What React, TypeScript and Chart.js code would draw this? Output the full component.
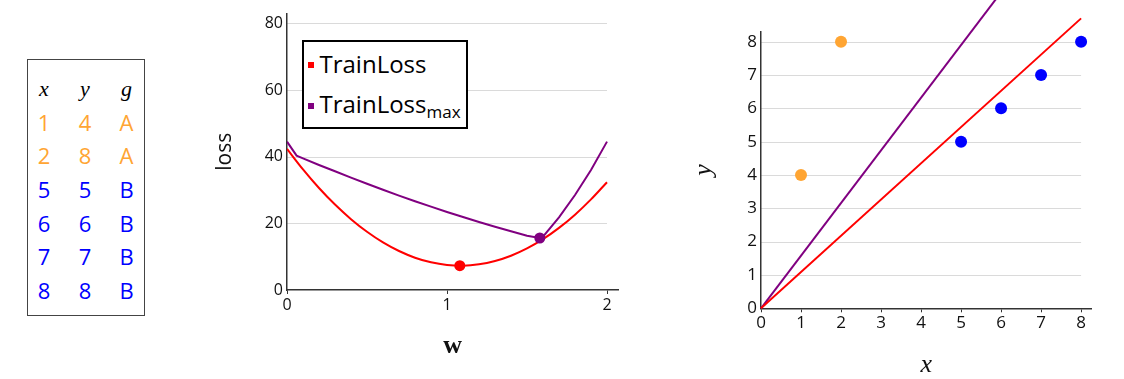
import React, { useEffect, useRef } from 'react';
import { Chart, registerables } from 'chart.js';

Chart.register(...registerables);

// ---------- data table (x, y, group) ----------
const dataX = [1, 2, 5, 6, 7, 8];
const dataY = [4, 8, 5, 6, 7, 8];
const dataG = ['A', 'A', 'B', 'B', 'B', 'B'];
const tableHeaders = ['x', 'y', 'g'];

// ---------- loss curves (middle chart) ----------
const wValues = [0, 0.1, 0.2, 0.3, 0.4, 0.5, 0.6, 0.7, 0.8, 0.9, 1.0, 1.1, 1.2, 1.3, 1.4, 1.5, 1.6, 1.7, 1.8, 1.9, 2.0];
const trainLoss = [42.33, 36.17, 30.59, 25.62, 21.24, 17.46, 14.27, 11.69, 9.69, 8.3, 7.5, 7.3, 7.69, 8.69, 10.27, 12.46, 15.24, 18.62, 22.59, 27.17, 32.33];
const wMaxValues = [0, 0.06, 0.1, 0.2, 0.3, 0.4, 0.5, 0.6, 0.7, 0.8, 0.9, 1.0, 1.1, 1.2, 1.3, 1.4, 1.5, 1.58, 1.6, 1.7, 1.8, 1.9, 2.0];
const trainLossMax = [44.5, 40.3, 39.5, 37.5, 35.6, 33.7, 31.85, 30.06, 28.3, 26.6, 25.0, 23.4, 21.9, 20.4, 18.95, 17.6, 16.25, 15.6, 16.0, 21.8, 28.5, 36.0, 44.5];
const minTrainW = [1.08];
const minTrainLoss = [7.3];
const minMaxW = [1.58];
const minMaxLoss = [15.6];
const wTicks = [0, 1, 2];
const lossTicks = [0, 20, 40, 60, 80];

// ---------- fitted lines (right chart) ----------
const fitX = [0, 8];
const fitTrainLossY = [0, 8.7];
const fitMaxY = [0, 12.64];
const xTicks = [0, 1, 2, 3, 4, 5, 6, 7, 8];
const yTicks = [0, 1, 2, 3, 4, 5, 6, 7, 8];

const legendItems = [
  { name: 'TrainLoss', sub: '', color: '#ff0000' },
  { name: 'TrainLoss', sub: 'max', color: '#800080' },
];

const RED = '#ff0000';
const PURPLE = '#800080';
const groupColors: Record<string, string> = { A: '#ffa533', B: '#0000ff' };
const AXIS = '#333333';
const GRID = '#dadada';
const TICK_COLOR = '#111111';

const partialGrid = (endX: number) => ({
  id: 'partialGrid',
  beforeDraw(chart: any) {
    const { ctx, scales } = chart;
    const x = scales.x;
    const y = scales.y;
    const x0 = x.getPixelForValue(0);
    const x1 = x.getPixelForValue(endX);
    ctx.save();
    ctx.strokeStyle = GRID;
    ctx.lineWidth = 1;
    y.ticks.forEach((t: any) => {
      if (t.value === 0) return;
      const py = Math.round(y.getPixelForValue(t.value)) + 0.5;
      ctx.beginPath();
      ctx.moveTo(x0, py);
      ctx.lineTo(x1, py);
      ctx.stroke();
    });
    ctx.restore();
  },
});

function pts(xs: number[], ys: number[]) {
  return xs.map((v, i) => ({ x: v, y: ys[i] }));
}

function middleConfig(): any {
  return {
    type: 'line',
    data: {
      datasets: [
        {
          label: 'TrainLoss minimum',
          data: pts(minTrainW, minTrainLoss),
          showLine: false,
          pointRadius: 5.5,
          pointBackgroundColor: RED,
          pointBorderWidth: 0,
          borderColor: RED,
        },
        {
          label: 'TrainLoss_max minimum',
          data: pts(minMaxW, minMaxLoss),
          showLine: false,
          pointRadius: 5.5,
          pointBackgroundColor: PURPLE,
          pointBorderWidth: 0,
          borderColor: PURPLE,
        },
        {
          label: 'TrainLoss',
          data: pts(wValues, trainLoss),
          borderColor: RED,
          borderWidth: 2,
          pointRadius: 0,
          cubicInterpolationMode: 'monotone',
          fill: false,
        },
        {
          label: 'TrainLoss_max',
          data: pts(wMaxValues, trainLossMax),
          borderColor: PURPLE,
          borderWidth: 2,
          pointRadius: 0,
          tension: 0,
          fill: false,
        },
      ],
    },
    options: {
      animation: false,
      responsive: false,
      events: [],
      layout: { padding: { left: 12.4, right: 21.8, top: 13.6, bottom: 16.9 } },
      plugins: { legend: { display: false }, tooltip: { enabled: false } },
      scales: {
        x: {
          type: 'linear',
          min: 0,
          max: 2.07,
          afterBuildTicks: (s: any) => {
            s.ticks = wTicks.map((v) => ({ value: v }));
          },
          afterFit: (s: any) => {
            s.height = 72.1;
          },
          grid: { drawOnChartArea: false, drawTicks: true, tickLength: 4, color: AXIS, lineWidth: 1 },
          border: { color: AXIS, width: 1.5 },
          ticks: { font: { size: 16 }, color: TICK_COLOR, padding: 2, autoSkip: false, maxRotation: 0 },
          title: {
            display: true,
            text: 'w',
            color: TICK_COLOR,
            padding: 0,
            font: { family: "'Liberation Serif', serif", size: 26, weight: 'bold', lineHeight: 1.2 },
          },
        },
        y: {
          type: 'linear',
          min: 0,
          max: 82.9,
          afterBuildTicks: (s: any) => {
            s.ticks = lossTicks.map((v) => ({ value: v }));
          },
          afterFit: (s: any) => {
            s.width = 74.6;
          },
          grid: { display: false, drawTicks: false },
          border: { color: AXIS, width: 1.5 },
          ticks: { font: { size: 16 }, color: TICK_COLOR, padding: 4 },
          title: {
            display: true,
            text: 'loss',
            color: TICK_COLOR,
            padding: 0,
            font: { size: 21, lineHeight: 1.2 },
          },
        },
      },
    },
    plugins: [partialGrid(2)],
  };
}

function rightConfig(): any {
  return {
    type: 'scatter',
    data: {
      datasets: [
        {
          label: 'data',
          data: pts(dataX, dataY),
          pointRadius: 6,
          pointBorderWidth: 0,
          pointBackgroundColor: dataG.map((g) => groupColors[g]),
          showLine: false,
        },
        {
          label: 'TrainLoss fit',
          data: pts(fitX, fitTrainLossY),
          showLine: true,
          borderColor: RED,
          borderWidth: 2,
          pointRadius: 0,
          clip: false,
        },
        {
          label: 'TrainLoss_max fit',
          data: pts(fitX, fitMaxY),
          showLine: true,
          borderColor: PURPLE,
          borderWidth: 2,
          pointRadius: 0,
          clip: false,
        },
      ],
    },
    options: {
      animation: false,
      responsive: false,
      events: [],
      layout: { padding: { left: 8.9, right: 32.5, top: 31.7, bottom: 3.2 } },
      plugins: { legend: { display: false }, tooltip: { enabled: false } },
      scales: {
        x: {
          type: 'linear',
          min: 0,
          max: 8.26,
          afterBuildTicks: (s: any) => {
            s.ticks = xTicks.map((v) => ({ value: v }));
          },
          afterFit: (s: any) => {
            s.height = 67.5;
          },
          grid: { drawOnChartArea: false, drawTicks: true, tickLength: 4, color: AXIS, lineWidth: 1 },
          border: { color: AXIS, width: 1.5 },
          ticks: { font: { size: 17 }, color: TICK_COLOR, padding: 1, autoSkip: false, maxRotation: 0 },
          title: {
            display: true,
            text: 'x',
            color: TICK_COLOR,
            padding: 0,
            font: { family: "'Liberation Serif', serif", size: 26, style: 'italic', lineHeight: 0.8 },
          },
        },
        y: {
          type: 'linear',
          min: 0,
          max: 8.3,
          afterBuildTicks: (s: any) => {
            s.ticks = yTicks.map((v) => ({ value: v }));
          },
          afterFit: (s: any) => {
            s.width = 72.1;
          },
          grid: { display: false, drawTicks: false },
          border: { color: AXIS, width: 1.5 },
          ticks: { font: { size: 17 }, color: TICK_COLOR, padding: 4 },
          title: {
            display: true,
            text: 'y',
            color: TICK_COLOR,
            padding: 0,
            font: { family: "'Liberation Serif', serif", size: 26, style: 'italic', lineHeight: 1.2 },
          },
        },
      },
    },
    plugins: [partialGrid(8)],
  };
}

const tableColCenters = [16, 57, 98.5];
const headerCenterY = 28.7;
const firstRowCenterY = 61.5;
const rowStep = 33.7;

function Cell(props: { cx: number; cy: number; size: number; color: string; family: string; italic?: boolean; text: string }) {
  return (
    <div
      style={{
        position: 'absolute',
        left: props.cx,
        top: props.cy,
        transform: 'translate(-50%, -50%)',
        fontSize: props.size,
        lineHeight: props.size + 'px',
        fontFamily: props.family,
        fontStyle: props.italic ? 'italic' : 'normal',
        color: props.color,
        whiteSpace: 'nowrap',
      }}
    >
      {props.text}
    </div>
  );
}

export default function App() {
  const midRef = useRef<HTMLCanvasElement>(null);
  const rightRef = useRef<HTMLCanvasElement>(null);

  useEffect(() => {
    Chart.defaults.font.family = "'Open Sans', sans-serif";
    const mid = new Chart(midRef.current as HTMLCanvasElement, middleConfig());
    const right = new Chart(rightRef.current as HTMLCanvasElement, rightConfig());
    return () => {
      mid.destroy();
      right.destroy();
    };
  }, []);

  const sans = "'Open Sans', sans-serif";
  const serif = "'Liberation Serif', serif";

  return (
    <div style={{ position: 'absolute', left: 0, top: 0, width: 1124, height: 379, background: '#fff', overflow: 'hidden' }}>
      {/* data table */}
      <div
        style={{
          position: 'absolute',
          left: 27,
          top: 59,
          width: 118,
          height: 257,
          boxSizing: 'border-box',
          border: '1px solid #444',
        }}
      >
        {tableHeaders.map((h, c) => (
          <Cell key={'h' + c} cx={tableColCenters[c]} cy={headerCenterY} size={22} color="#000" family={serif} italic text={h} />
        ))}
        {dataX.map((xv, r) => {
          const color = groupColors[dataG[r]];
          const cy = firstRowCenterY + r * rowStep;
          return (
            <React.Fragment key={'r' + r}>
              <Cell cx={tableColCenters[0]} cy={cy} size={22} color={color} family={sans} text={String(xv)} />
              <Cell cx={tableColCenters[1]} cy={cy} size={22} color={color} family={sans} text={String(dataY[r])} />
              <Cell cx={tableColCenters[2]} cy={cy} size={22} color={color} family={sans} text={dataG[r]} />
            </React.Fragment>
          );
        })}
      </div>

      {/* middle chart */}
      <canvas ref={midRef} width={440} height={379} style={{ position: 'absolute', left: 200, top: 0 }} />

      {/* legend of middle chart */}
      <div
        style={{
          position: 'absolute',
          left: 302,
          top: 40,
          width: 166.3,
          height: 89,
          boxSizing: 'border-box',
          border: '2px solid #000',
          background: '#fff',
          fontFamily: sans,
        }}
      >
        {legendItems.map((it, i) => (
          <React.Fragment key={'l' + i}>
            <div
              style={{
                position: 'absolute',
                left: 4,
                top: 20.3 + i * 41,
                width: 6,
                height: 6,
                background: it.color,
              }}
            />
            <div
              style={{
                position: 'absolute',
                left: 15.5,
                top: 10 + i * 40,
                fontSize: 24,
                lineHeight: '24px',
                color: '#000',
                whiteSpace: 'nowrap',
              }}
            >
              {it.name}
              {it.sub ? <span style={{ fontSize: 17, verticalAlign: '-5px' }}>{it.sub}</span> : null}
            </div>
          </React.Fragment>
        ))}
      </div>

      {/* right chart */}
      <canvas ref={rightRef} width={444} height={379} style={{ position: 'absolute', left: 680, top: 0 }} />
    </div>
  );
}
